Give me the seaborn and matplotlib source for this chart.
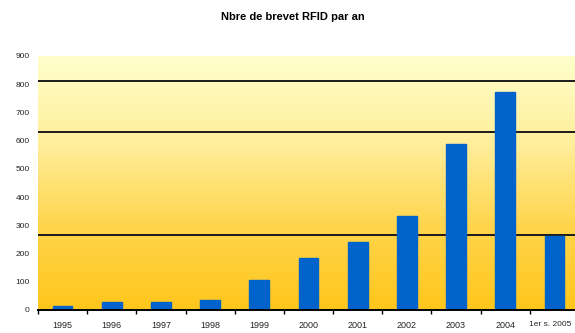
import numpy as np
import pandas as pd
import matplotlib
matplotlib.use("Agg")
import matplotlib.pyplot as plt
import matplotlib.transforms as mtransforms
from matplotlib.colors import LinearSegmentedColormap
import seaborn as sns

years = ["1995", "1996", "1997", "1998", "1999", "2000", "2001", "2002",
         "2003", "2004", "1er s. 2005"]
brevets = [14, 28, 28, 35, 106, 184, 241, 333, 588, 772, 262]
y_ticks = [0, 100, 200, 300, 400, 500, 600, 700, 800, 900]
grid_values = [266, 631, 811]
title = "Nbre de brevet RFID par an"

sns.set_theme(style="white")
plt.rcParams['font.family'] = ['Liberation Sans', 'DejaVu Sans']

df = pd.DataFrame({"annee": years, "brevets": brevets})

fig = plt.figure(figsize=(5.75, 3.33), dpi=100)
W, H = 575, 333
ax = fig.add_axes([38 / W, 1 - 310 / H, (579 - 38) / W, (310 - 56) / H])

# gradient background
cmap = LinearSegmentedColormap.from_list(
    "bg", [(0.0, "#FFC61A"), (0.35, "#FFD650"), (0.65, "#FFEE9A"), (1.0, "#FFFFCC")])
grad = np.linspace(0, 1, 256).reshape(-1, 1)
ax.imshow(grad, cmap=cmap, aspect="auto", extent=[0, 1, 0, 1],
          transform=ax.transAxes, origin="lower", zorder=0)

sns.barplot(data=df, x="annee", y="brevets", color="#0063CC", width=0.4,
            saturation=1, ax=ax, zorder=3, edgecolor="#0063CC")

for g in grid_values:
    ax.axhline(g, color="#1a1a1a", lw=1.4, zorder=2)

ax.set_xlim(-0.5, len(years) - 0.5)
ax.set_ylim(0, y_ticks[-1])
ax.set_yticks(y_ticks)
ax.set_yticklabels([str(v) for v in y_ticks], fontsize=6)
ax.tick_params(axis="y", length=0, pad=6)
ax.tick_params(axis="x", which="major", length=0, labelsize=6.5, pad=8)
ax.set_xticks(np.arange(-0.5, len(years), 1), minor=True)
ax.tick_params(axis="x", which="minor", length=3, width=1, color="black",
               direction="out", bottom=True)
last = ax.get_xticklabels()[-1]
last.set_fontsize(6)
last.set_transform(last.get_transform() +
                   mtransforms.ScaledTranslation(-4 / 100, 0, fig.dpi_scale_trans))
ax.set_xlabel("")
ax.set_ylabel("")
for s in ["top", "right", "left"]:
    ax.spines[s].set_visible(False)
ax.spines["bottom"].set_color("black")
ax.spines["bottom"].set_linewidth(1.4)
ax.spines["bottom"].set_zorder(4)

fig.text(293 / W, 1 - 17 / H, title, ha="center", va="center",
         fontsize=8, fontweight="bold", color="black")

fig.savefig("out.png", dpi=100)
